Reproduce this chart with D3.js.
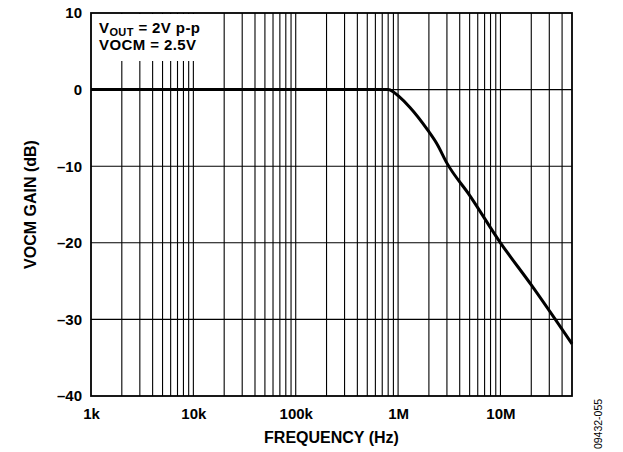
<!DOCTYPE html>
<html>
<head>
<meta charset="utf-8">
<script src="https://cdn.jsdelivr.net/npm/d3@7"></script>
<style>
  body { margin: 0; background: #fff; }
  text { font-family: "Liberation Sans", Arial, sans-serif; fill: #000; }
</style>
</head>
<body>
<div id="chart"></div>
<script>
// response
var freqHz = [1e3, 1e4, 1e5, 5e5, 8e5, 9e5, 1e6, 1.3e6, 1.95e6, 2.4e6, 3e6, 5e6, 1e7, 2e7, 5e7];
var gainDb = [0, 0, 0, 0, 0, -0.3, -0.8, -2.3, -5.3, -7.1, -9.6, -13.8, -20.0, -25.5, -33.2];

var xTickVals = [1e3, 1e4, 1e5, 1e6, 1e7];
var xTickLabels = ["1k", "10k", "100k", "1M", "10M"];
var yTickVals = [10, 0, -10, -20, -30, -40];
var yTickLabels = ["10", "0", "\u201310", "\u201320", "\u201330", "\u201340"];

var svgWidth = 623;
var svgHeight = 452;

var margin = { top: 13, right: 51, bottom: 56, left: 91 };
var width = svgWidth - margin.left - margin.right;
var height = svgHeight - margin.top - margin.bottom;

var svg = d3.select("#chart")
  .append("svg")
  .attr("width", svgWidth)
  .attr("height", svgHeight);

var chartGroup = svg.append("g")
  .attr("transform", `translate(${margin.left}, ${margin.top})`);

var xScale = d3.scaleLog()
  .domain([1e3, 5e7])
  .range([0, width]);

var yScale = d3.scaleLinear()
  .domain([-40, 10])
  .range([height, 0]);

// vertical grid: every 1..9 of each decade
var minorX = [];
for (var dec = 1e3; dec < 5e7; dec *= 10) {
  for (var m = 1; m < 10; m++) {
    var v = dec * m;
    if (v > 1e3 && v < 5e7) minorX.push(v);
  }
}

chartGroup.selectAll(".vgrid")
  .data(minorX)
  .enter()
  .append("line")
  .attr("x1", d => xScale(d))
  .attr("x2", d => xScale(d))
  .attr("y1", 0)
  .attr("y2", height)
  .attr("stroke", "#000")
  .attr("stroke-width", 1.1);

chartGroup.selectAll(".hgrid")
  .data(yTickVals.filter(d => d > -40 && d < 10))
  .enter()
  .append("line")
  .attr("x1", 0)
  .attr("x2", width)
  .attr("y1", d => yScale(d))
  .attr("y2", d => yScale(d))
  .attr("stroke", "#000")
  .attr("stroke-width", 1.1);

// annotation box hides the grid behind it
chartGroup.append("rect")
  .attr("x", 1)
  .attr("y", 1)
  .attr("width", 112)
  .attr("height", 47)
  .attr("fill", "#fff");

var note = chartGroup.append("text")
  .attr("x", 8)
  .attr("y", 20)
  .style("font-size", "15px")
  .style("font-weight", "bold")
  .style("letter-spacing", "0.4px");
note.append("tspan").text("V");
note.append("tspan").attr("dy", 2.5).style("font-size", "11px").text("OUT");
note.append("tspan").attr("dy", -2.5).text(" = 2V p-p");

chartGroup.append("text")
  .attr("x", 8)
  .attr("y", 37)
  .style("font-size", "15px")
  .style("font-weight", "bold")
  .style("letter-spacing", "0.4px")
  .text("VOCM = 2.5V");

// curve
var line = d3.line()
  .x((d, i) => xScale(freqHz[i]))
  .y(d => yScale(d))
  .curve(d3.curveMonotoneX);

chartGroup.append("path")
  .datum(gainDb)
  .attr("d", line)
  .attr("fill", "none")
  .attr("stroke", "#000")
  .attr("stroke-width", 3);

// frame
chartGroup.append("rect")
  .attr("x", 0)
  .attr("y", 0)
  .attr("width", width)
  .attr("height", height)
  .attr("fill", "none")
  .attr("stroke", "#000")
  .attr("stroke-width", 1.8);

// axes (labels only)
var bottomAxis = d3.axisBottom(xScale)
  .tickValues(xTickVals)
  .tickFormat((d, i) => xTickLabels[i])
  .tickSize(0)
  .tickPadding(12);

var xAxis = chartGroup.append("g")
  .attr("transform", `translate(0, ${height})`)
  .call(bottomAxis);

var leftAxis = d3.axisLeft(yScale)
  .tickValues(yTickVals)
  .tickFormat((d, i) => yTickLabels[i])
  .tickSize(0)
  .tickPadding(9);

var yAxis = chartGroup.append("g")
  .call(leftAxis);

[xAxis, yAxis].forEach(function(ax) {
  ax.select(".domain").remove();
  ax.selectAll("text")
    .style("font-family", "'Liberation Sans', Arial, sans-serif")
    .style("font-size", "15px")
    .style("font-weight", "bold")
    .attr("fill", "#000");
});

chartGroup.append("text")
  .attr("x", width / 2)
  .attr("y", height + 47)
  .attr("text-anchor", "middle")
  .style("font-size", "16px")
  .style("font-weight", "bold")
  .text("FREQUENCY (Hz)");

chartGroup.append("text")
  .attr("transform", "rotate(-90)")
  .attr("x", -height / 2)
  .attr("y", -55)
  .attr("text-anchor", "middle")
  .style("font-size", "16px")
  .style("font-weight", "bold")
  .text("VOCM GAIN (dB)");

svg.append("text")
  .attr("transform", "translate(602, 424) rotate(-90)")
  .attr("text-anchor", "middle")
  .style("font-size", "10.5px")
  .text("09432-055");
</script>
</body>
</html>
